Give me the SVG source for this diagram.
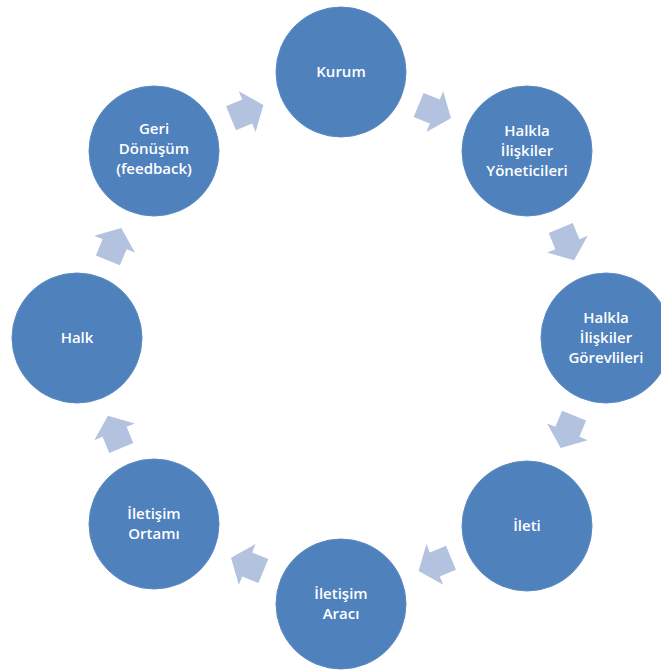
<svg xmlns="http://www.w3.org/2000/svg" xmlns:xlink="http://www.w3.org/1999/xlink" width="661" height="671" viewBox="0 0 661 671">
<style>
.n{fill:#4F81BD;stroke:#5a8ac2;stroke-width:1}
.t{font-family:"Open Sans","Noto Sans",sans-serif;font-size:15px;font-weight:600;fill:#ffffff;text-anchor:middle}
.a{fill:#B3C3DF}
</style>
<defs>
<polygon id="arr" class="a" points="-17.5,-13 0,-13 0,-22 17.5,0 0,22 0,13 -17.5,13"/>
</defs>
<rect width="661" height="671" fill="#ffffff"/>
<g id="connectors">
<use xlink:href="#arr" transform="translate(434.8,111.6) rotate(22.5)"/>
<use xlink:href="#arr" transform="translate(567.4,244.2) rotate(67.5)"/>
<use xlink:href="#arr" transform="translate(567.4,431.8) rotate(112.5)"/>
<use xlink:href="#arr" transform="translate(434.8,564.4) rotate(157.5)"/>
<use xlink:href="#arr" transform="translate(247.2,564.4) rotate(202.5)"/>
<use xlink:href="#arr" transform="translate(114.6,431.8) rotate(247.5)"/>
<use xlink:href="#arr" transform="translate(114.6,244.2) rotate(292.5)"/>
<use xlink:href="#arr" transform="translate(247.2,111.6) rotate(337.5)"/>
</g>
<g id="kurum"><circle class="n" cx="341" cy="72" r="65"/><text class="t" x="341" y="77">Kurum</text></g>
<g id="yoneticileri"><circle class="n" cx="527" cy="151" r="65"/><text class="t" x="527" y="136">Halkla</text><text class="t" x="527" y="156">İlişkiler</text><text class="t" x="527" y="176">Yöneticileri</text></g>
<g id="gorevlileri"><circle class="n" cx="606" cy="338" r="65"/><text class="t" x="606" y="323">Halkla</text><text class="t" x="606" y="343">İlişkiler</text><text class="t" x="606" y="363">Görevlileri</text></g>
<g id="ileti"><circle class="n" cx="527" cy="526" r="65"/><text class="t" x="527" y="531">İleti</text></g>
<g id="iletisim-araci"><circle class="n" cx="341" cy="604" r="65"/><text class="t" x="341" y="599">İletişim</text><text class="t" x="341" y="619">Aracı</text></g>
<g id="iletisim-ortami"><circle class="n" cx="154" cy="524" r="65"/><text class="t" x="154" y="519">İletişim</text><text class="t" x="154" y="539">Ortamı</text></g>
<g id="halk"><circle class="n" cx="77" cy="338" r="65"/><text class="t" x="77" y="343">Halk</text></g>
<g id="geri-donusum"><circle class="n" cx="154" cy="151" r="65"/><text class="t" x="154" y="134">Geri</text><text class="t" x="154" y="154">Dönüşüm</text><text class="t" x="154" y="174">(feedback)</text></g>
</svg>
